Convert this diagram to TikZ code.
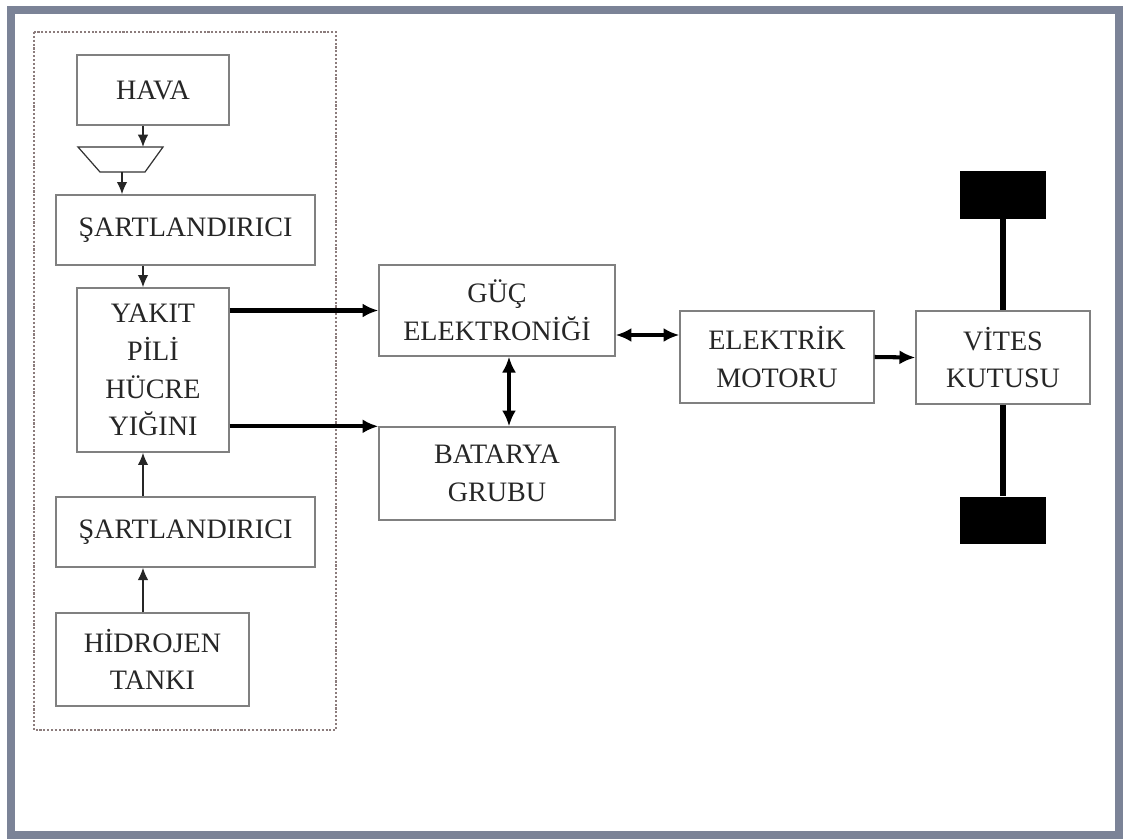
\documentclass[tikz,border=0pt]{standalone}
\usepackage{fontspec}
\setmainfont{Liberation Serif}
\usepackage{tikz}
\usetikzlibrary{arrows.meta, calc, positioning}
\definecolor{framegray}{HTML}{7B8397}
\definecolor{boxgray}{HTML}{808080}
\definecolor{dotbrown}{HTML}{8C7C7C}
\definecolor{textgray}{HTML}{262626}

\begin{document}
\begin{tikzpicture}[x=0.02cm, y=-0.02cm,
  every node/.style={font=\fontsize{16}{21.5}\selectfont, text=textgray, align=center},
  block/.style={draw=boxgray, line width=0.8pt, inner sep=0pt},
  wheel/.style={fill=black, inner sep=0pt, minimum width=1.72cm, minimum height=0.95cm},
  feed/.style={draw=black!85, line width=0.85pt, -{Latex[length=7pt, width=6pt]}},
  power/.style={draw=black, line width=2.3pt, -{Latex[length=9pt, width=8pt]}},
  link/.style={draw=black, line width=2.3pt, {Latex[length=9pt, width=8pt]}-{Latex[length=9pt, width=8pt]}}]
\useasboundingbox (0,0) rectangle (1123,839);
\draw[framegray, line width=4.3pt] (11,10) rectangle (1119,835);
% fuel cell subsystem
\draw[dotbrown, line width=0.6pt, dash pattern=on 1.2pt off 1pt] (34,32) rectangle (336,730);
\node[block, minimum width=3.04cm, minimum height=1.4cm] (hava) at (153,90) {HAVA};
\draw[black!80, line width=0.7pt] (78,147) -- (163,147) -- (145,172) -- (100,172) -- cycle;
\coordinate (filtertop) at (143,147);
\coordinate (filterbot) at (122,172);
\node[block, minimum width=5.18cm, minimum height=1.4cm] (sart1) at (185.5,230) {ŞARTLANDIRICI};
\node[block, minimum width=3.04cm, minimum height=3.28cm] (yakit) at (153,370) {YAKIT\\PİLİ\\HÜCRE\\YIĞINI};
\node[block, minimum width=5.18cm, minimum height=1.4cm] (sart2) at (185.5,532) {ŞARTLANDIRICI};
\node[block, minimum width=3.86cm, minimum height=1.86cm] (hidrojen) at (152.5,659.5) {HİDROJEN\\TANKI};
% drive train
\node[block, minimum width=4.72cm, minimum height=1.82cm] (guc) at (497,310.5) {GÜÇ\\ELEKTRONİĞİ};
\node[block, minimum width=4.72cm, minimum height=1.86cm] (batarya) at (497,473.5) {BATARYA\\GRUBU};
\node[block, minimum width=3.88cm, minimum height=1.84cm] (motor) at (777,357) {ELEKTRİK\\MOTORU};
\node[block, minimum width=3.48cm, minimum height=1.86cm] (vites) at (1003,357.5) {VİTES\\KUTUSU};
\node[wheel] (wheeltop) at (1003,195) {};
\node[wheel] (wheelbot) at (1003,520.5) {};
\coordinate (inx) at (143,0);
\coordinate (busx) at (509,0);
\coordinate (dcy) at (0,335);

\draw[feed] (hava.south -| inx) -- (filtertop);
\draw[feed] (filterbot) -- (filterbot |- sart1.north);
\draw[feed] (sart1.south -| inx) -- (yakit.north -| inx);
\draw[feed] (sart2.north -| inx) -- (yakit.south -| inx);
\draw[feed] (hidrojen.north -| inx) -- (sart2.south -| inx);
\draw[power] (yakit.east |- guc.west) -- (guc.west);
\draw[power] (yakit.east |- batarya.north west) -- (batarya.north west);
\draw[link] (guc.south -| busx) -- (batarya.north -| busx);
\draw[link] (guc.east |- dcy) -- (motor.west |- dcy);
\draw[power] (motor.east) -- (vites.west);
\draw[line width=3pt] (wheeltop) -- (vites.north);
\draw[line width=3pt] (vites.south) -- (wheelbot);
\end{tikzpicture}
\end{document}
